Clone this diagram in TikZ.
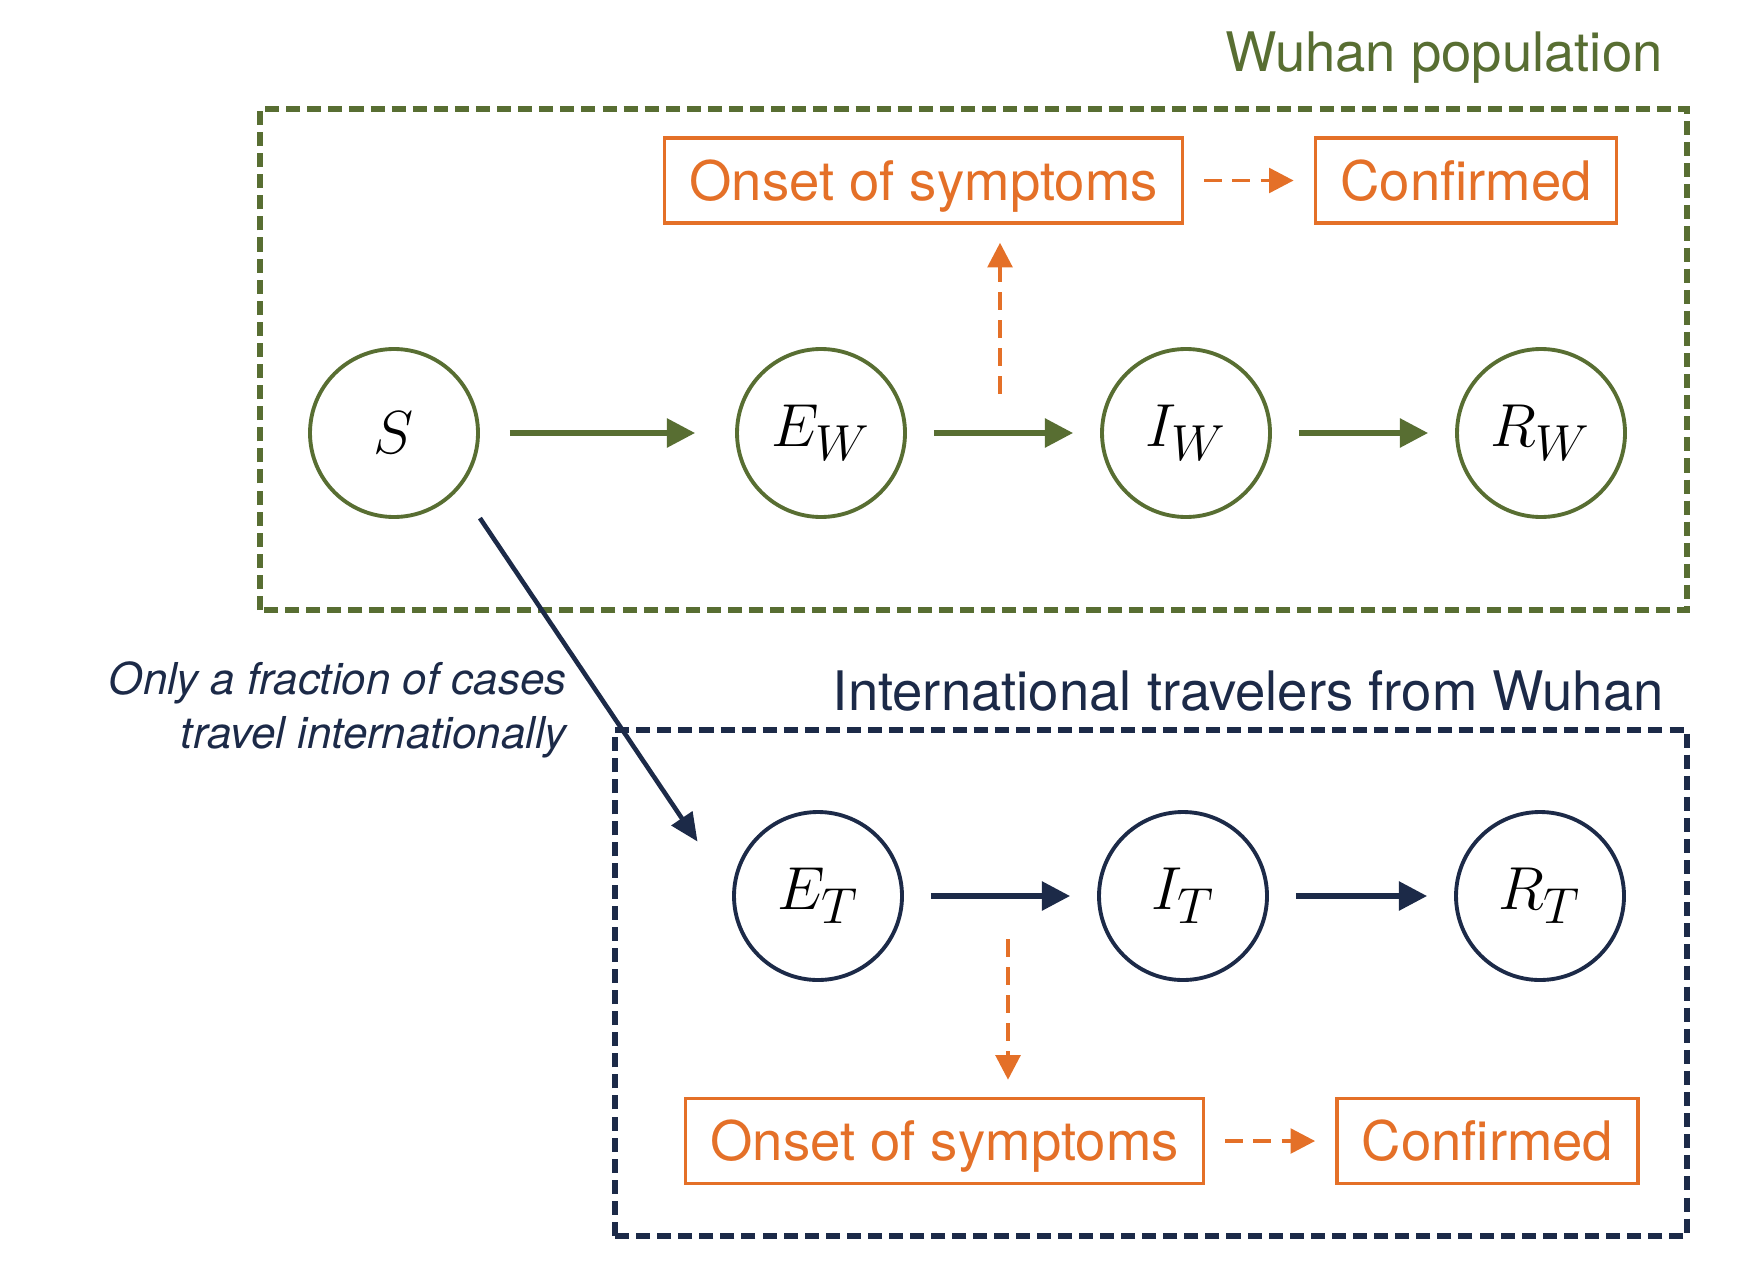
\documentclass[tikz,border=0pt]{standalone}
\usepackage{fontspec}
\setmainfont{TeX Gyre Heros}
\usepackage{tikz}
\usetikzlibrary{arrows.meta}
\usepackage{amsmath}
\usepackage{xcolor}
\definecolor{wgreen}{RGB}{88,110,50}
\definecolor{tnavy}{RGB}{28,42,72}
\definecolor{sorange}{RGB}{228,112,40}

\begin{document}
\begin{tikzpicture}[
  compartment/.style={circle, draw, line width=1.1pt, minimum size=1.68cm, inner sep=0pt,
    font=\fontsize{19}{22}\selectfont},
  eventbox/.style={rectangle, draw=sorange, text=sorange, line width=1pt, minimum height=0.85cm,
    inner xsep=0.25cm, text height=14pt, text depth=2.8pt, font=\fontsize{15.5}{18}\selectfont},
  flow/.style={line width=1.5pt, -{Triangle[length=8pt,width=8pt]}, shorten <=0.27cm, shorten >=0.27cm},
  delay/.style={sorange, line width=1.1pt, dash pattern=on 5pt off 3pt, -{Triangle[length=7pt,width=7pt]}},
  frame/.style={line width=1.5pt, dash pattern=on 4pt off 2pt}
]
  % Page size
  \useasboundingbox (0,0) rectangle (17.56,12.72);

  % Wuhan population
  \draw[frame, wgreen] (2.60,6.62) rectangle (16.87,11.63);
  \node[wgreen, anchor=east, font=\fontsize{15.5}{18}\selectfont] (wlabel) at (16.75,12.14) {Wuhan population};

  \node[compartment, draw=wgreen] (S) at (3.94,8.39) {$S$};
  \node[compartment, draw=wgreen] (EW) at (8.21,8.39) {$E_W$};
  \node[compartment, draw=wgreen] (IW) at (11.86,8.39) {$I_W$};
  \node[compartment, draw=wgreen] (RW) at (15.41,8.39) {$R_W$};

  \node[eventbox] (onsetW) at (9.235,10.915) {Onset of symptoms};
  \node[eventbox] (confW) at (14.66,10.915) {Confirmed};

  \draw[flow, wgreen, shorten <=0.3cm, shorten >=0.4cm] (S) -- (EW);
  \draw[flow, wgreen] (EW) -- (IW);
  \draw[flow, wgreen] (IW) -- (RW);

  % Reported cases in Wuhan
  \coordinate (upW) at (10.00,8.78);
  \draw[delay, shorten >=0.18cm] (upW) -- (onsetW.south -| upW);
  \draw[delay, shorten <=0.2cm, shorten >=0.2cm] (onsetW) -- (confW);

  % International travelers
  \draw[frame, tnavy] (6.15,0.36) rectangle (16.87,5.42);
  \node[tnavy, anchor=east, font=\fontsize{15.5}{18}\selectfont] (tlabel) at (16.76,5.81) {International travelers from Wuhan};

  \node[compartment, draw=tnavy] (ET) at (8.18,3.76) {$E_T$};
  \node[compartment, draw=tnavy] (IT) at (11.83,3.76) {$I_T$};
  \node[compartment, draw=tnavy] (RT) at (15.40,3.76) {$R_T$};

  \node[eventbox] (onsetT) at (9.445,1.31) {Onset of symptoms};
  \node[eventbox] (confT) at (14.875,1.31) {Confirmed};

  \draw[flow, tnavy] (ET) -- (IT);
  \draw[flow, tnavy] (IT) -- (RT);

  \coordinate (downT) at (10.08,3.33);
  \draw[delay, shorten >=0.17cm] (downT) -- (onsetT.north -| downT);
  \draw[delay, shorten <=0.2cm, shorten >=0.2cm] (onsetT) -- (confT);

  % Travel out of Wuhan
  \draw[tnavy, line width=1.3pt, -{Triangle[length=8pt,width=7pt]}, shorten <=0.36cm, shorten >=0.62cm] (S.-40) -- (ET.178);
  \node[tnavy, anchor=east, align=right, font=\fontsize{12.5}{15.5}\selectfont\itshape] (note) at (5.79,5.62)
    {Only a fraction of cases\\travel internationally};

\end{tikzpicture}
\end{document}
